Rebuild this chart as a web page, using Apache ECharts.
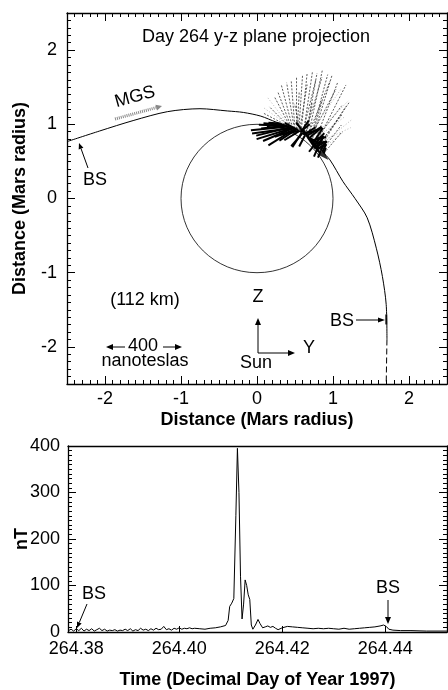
<!DOCTYPE html>
<html>
<head>
<meta charset="utf-8">
<script src="https://cdn.jsdelivr.net/npm/echarts@6/dist/echarts.min.js"></script>
<style>
html, body { margin: 0; padding: 0; background: #fff; }
#chart { width: 448px; height: 690px; }
</style>
</head>
<body>
<div id="chart"></div>
<script>
const FONT = '"Liberation Sans", Arial, Helvetica, sans-serif';
const NT_PER_RADIUS = 400;

// tick labels
const xMajor = [-2, -1, 0, 1, 2];
const yMajor = [-2, -1, 0, 1, 2];
const timeTicks = [264.38, 264.40, 264.42, 264.44];

// MGS track in the y-z plane (Mars radii)
const orbitSolid = [
  [-2.49, 0.77], [-2.07, 0.91], [-1.63, 1.05], [-1.18, 1.17], [-0.75, 1.21],
  [-0.39, 1.18], [-0.18, 1.16], [0.05, 1.11], [0.25, 1.03], [0.42, 0.97],
  [0.55, 0.91], [0.70, 0.79], [0.85, 0.64], [0.96, 0.52], [1.13, 0.23],
  [1.29, 0.0], [1.45, -0.26], [1.57, -0.67], [1.65, -1.05], [1.70, -1.43],
  [1.71, -1.9]
];
const orbitDashed = [[1.71, -1.9], [1.70, -2.5]];
const orbitArrow = [[0.89, 0.57]];
const bsCrossing = [[1.70, -1.63]];

// field vectors: [base y, base z, By (nT), Bz (nT)]
const whiskerFan = [
  [0.42, 0.97, -104, 108], [0.44, 0.96, -84, 164], [0.45, 0.96, -70, 190],
  [0.47, 0.95, -60, 232], [0.49, 0.95, -40, 244], [0.50, 0.94, -20, 260],
  [0.52, 0.94, 0, 276], [0.53, 0.93, 10, 200], [0.55, 0.92, 20, 300],
  [0.56, 0.91, 40, 250], [0.58, 0.90, 32, 316], [0.60, 0.88, 70, 290],
  [0.61, 0.88, 48, 332], [0.63, 0.86, 90, 310], [0.64, 0.85, 60, 336],
  [0.66, 0.83, 120, 300], [0.67, 0.82, 76, 364], [0.69, 0.80, 140, 270],
  [0.70, 0.79, 92, 352], [0.72, 0.77, 108, 360], [0.74, 0.75, 150, 200],
  [0.75, 0.74, 124, 328], [0.77, 0.72, 160, 324], [0.79, 0.70, 130, 170],
  [0.80, 0.69, 164, 240], [0.82, 0.67, 140, 228], [0.85, 0.64, 104, 140],
  [0.88, 0.61, 96, 116], [0.40, 0.98, -130, 70], [0.57, 0.90, -30, 150],
  [0.65, 0.84, 30, 180], [0.71, 0.78, 60, 220]
];
const whiskerCore = [
  [0.30, 1.01, -60, 5], [0.33, 1.00, -80, -10], [0.36, 0.99, -110, 10],
  [0.38, 0.98, -130, -15], [0.40, 0.98, -150, 5], [0.42, 0.97, -200, -20],
  [0.44, 0.96, -180, -45], [0.46, 0.95, -210, -30], [0.47, 0.95, -190, -60],
  [0.48, 0.95, -160, -70], [0.50, 0.94, -140, -90], [0.51, 0.93, -110, -40],
  [0.52, 0.93, -90, -60], [0.54, 0.92, -70, 40], [0.55, 0.91, -100, -20],
  [0.56, 0.91, -80, -50], [0.57, 0.90, 50, 40], [0.58, 0.90, 40, 60],
  [0.59, 0.89, -50, -80], [0.60, 0.88, -60, -70], [0.61, 0.87, 70, 20],
  [0.62, 0.86, 60, 40], [0.63, 0.85, -30, -60], [0.64, 0.85, -50, 70],
  [0.65, 0.84, 80, 50], [0.66, 0.83, 60, -30], [0.67, 0.82, 40, -60],
  [0.68, 0.81, 70, 60], [0.69, 0.80, 50, -50], [0.70, 0.79, -40, 60],
  [0.71, 0.78, 80, 20], [0.72, 0.77, 60, 30], [0.73, 0.76, 30, -50],
  [0.74, 0.75, 50, 80], [0.75, 0.74, 60, 10], [0.76, 0.73, 50, 60],
  [0.77, 0.72, 20, -40], [0.78, 0.71, 40, 50], [0.79, 0.70, 50, 30],
  [0.80, 0.69, 30, 60], [0.81, 0.68, 40, 20], [0.82, 0.67, 40, 40],
  [0.84, 0.65, 30, 50], [0.86, 0.63, 20, 40], [0.88, 0.61, 10, 30],
  [0.76, 0.73, -30, -40], [0.80, 0.69, -20, -50], [0.84, 0.65, -15, -40]
];
const whiskerFaint = [
  [0.44, 0.96, -120, 160], [0.46, 0.95, -150, 110], [0.66, 0.83, 180, 260],
  [0.70, 0.79, 200, 210], [0.72, 0.77, 170, 130], [0.76, 0.73, 190, 90],
  [0.80, 0.69, 180, 150], [0.84, 0.65, 120, 100]
];

// |B| time series
const timeDay = [
  264.3785, 264.3790, 264.3795, 264.3800, 264.3805, 264.3810, 264.3815, 264.3820,
  264.3825, 264.3830, 264.3835, 264.3840, 264.3845, 264.3850, 264.3855, 264.3860,
  264.3865, 264.3870, 264.3875, 264.3880, 264.3885, 264.3890, 264.3895, 264.3900,
  264.3905, 264.3910, 264.3915, 264.3920, 264.3925, 264.3930, 264.3935, 264.3940,
  264.3945, 264.3950, 264.3955, 264.3960, 264.3965, 264.3970, 264.3975, 264.3980,
  264.3985, 264.3990, 264.3995, 264.4000, 264.4005, 264.4010, 264.4015, 264.4020,
  264.4025, 264.4030, 264.4040, 264.4050, 264.4060, 264.4070, 264.4080, 264.4090,
  264.4095, 264.4098, 264.4102, 264.4106, 264.4110, 264.4113, 264.4116, 264.4119,
  264.4122, 264.4125, 264.4128, 264.4131, 264.4134, 264.4137, 264.4140, 264.4143,
  264.4148, 264.4153, 264.4157, 264.4162, 264.4167, 264.4172, 264.4177, 264.4182,
  264.4187, 264.4192, 264.4200, 264.4210, 264.4220, 264.4230, 264.4240, 264.4250,
  264.4260, 264.4270, 264.4280, 264.4290, 264.4300, 264.4310, 264.4320, 264.4330,
  264.4340, 264.4350, 264.4360, 264.4370, 264.4380, 264.4390, 264.4397, 264.4402,
  264.4407, 264.4415, 264.4430, 264.4450, 264.4480, 264.4520
];
const fieldNT = [
  3, 6, 2, 7, 3, 8, 2, 6,
  3, 7, 2, 5, 8, 3, 6, 2,
  4, 3, 5, 2, 4, 3, 6, 3,
  7, 2, 5, 3, 8, 4, 6, 3,
  7, 4, 8, 5, 6, 12, 5, 7,
  4, 8, 6, 9, 6, 8, 7, 9,
  7, 8, 7, 6, 8, 9, 11, 14,
  25, 55, 62, 72, 250, 395, 300, 120,
  28, 60, 112, 100, 80, 70, 15, 6,
  15, 27, 18, 9, 11, 13, 10, 12,
  8, 5, 9, 12, 11, 10, 9, 8,
  7, 8, 7, 8, 7, 6, 8, 6,
  7, 8, 9, 10, 11, 13, 15, 12,
  6, 4, 3, 3, 2, 2
];

const marsBody = [[0, 0, 1]];

function whiskerSeries(name, rows, style) {
  return {
    name: name,
    type: 'custom',
    xAxisIndex: 0,
    yAxisIndex: 0,
    data: rows,
    silent: true,
    renderItem: function (params, api) {
      const y0 = api.value(0), z0 = api.value(1);
      const p0 = api.coord([y0, z0]);
      const p1 = api.coord([y0 + api.value(2) / NT_PER_RADIUS, z0 + api.value(3) / NT_PER_RADIUS]);
      return {
        type: 'line',
        shape: { x1: p0[0], y1: p0[1], x2: p1[0], y2: p1[1] },
        style: style
      };
    }
  };
}

function arrow(x1, y1, x2, y2, opts) {
  const o = Object.assign({ head: 7, half: 3, width: 1, color: '#000' }, opts || {});
  const a = Math.atan2(y2 - y1, x2 - x1);
  const bx = x2 - o.head * Math.cos(a), by = y2 - o.head * Math.sin(a);
  const nx = -Math.sin(a) * o.half, ny = Math.cos(a) * o.half;
  return [
    { type: 'line', z: 100, shape: { x1: x1, y1: y1, x2: bx, y2: by },
      style: { stroke: o.color, lineWidth: o.width, lineDash: o.dash || null } },
    { type: 'polygon', z: 100, shape: { points: [[x2, y2], [bx + nx, by + ny], [bx - nx, by - ny]] },
      style: { fill: o.color } }
  ];
}

function label(text, x, y, extra) {
  return Object.assign({
    type: 'text', z: 100, x: x, y: y,
    style: { text: text, fontSize: 18, fontFamily: FONT, fill: '#000', align: 'center', verticalAlign: 'middle' }
  }, extra || {});
}

const axisLineStyle = { color: '#000', width: 1.3 };
const tickLine = { color: '#000', width: 1 };
const tickLabel = { fontSize: 18, fontFamily: FONT, color: '#000' };
const titleStyle = { fontSize: 18, fontFamily: FONT, fontWeight: 'bold', color: '#000' };

function minorAxis(gridIndex, position) {
  return {
    type: 'value', gridIndex: gridIndex, position: position,
    min: -2.5, max: 2.5, interval: 0.1,
    axisLine: { show: true, onZero: false, lineStyle: axisLineStyle },
    axisTick: { show: true, inside: true, length: 4, lineStyle: tickLine },
    axisLabel: { show: false },
    splitLine: { show: false }
  };
}
function majorAxis(gridIndex, position, values, withLabels) {
  return {
    type: 'value', gridIndex: gridIndex, position: position,
    min: -2.5, max: 2.5,
    axisLine: { show: false, onZero: false },
    axisTick: { show: true, inside: true, length: 8, customValues: values, lineStyle: tickLine },
    axisLabel: Object.assign({ show: withLabels, customValues: values, formatter: v => String(v) }, tickLabel),
    splitLine: { show: false }
  };
}

const xTopLabeled = majorAxis(0, 'bottom', xMajor, true);
xTopLabeled.axisLabel.margin = 6;
xTopLabeled.name = 'Distance (Mars radius)';
xTopLabeled.nameLocation = 'middle';
xTopLabeled.nameGap = 27;
xTopLabeled.nameMoveOverlap = false;
xTopLabeled.nameTextStyle = titleStyle;

const yTopLabeled = majorAxis(0, 'left', yMajor, true);
yTopLabeled.axisLabel.margin = 10;
yTopLabeled.name = 'Distance (Mars radius)';
yTopLabeled.nameLocation = 'middle';
yTopLabeled.nameGap = 38;
yTopLabeled.nameMoveOverlap = false;
yTopLabeled.nameTextStyle = titleStyle;

const option = {
  backgroundColor: '#fff',
  animation: false,
  grid: [
    { left: 67, top: 13, width: 380, height: 371, outerBoundsMode: 'none', containLabel: false },
    { left: 68, top: 446, width: 379, height: 186, outerBoundsMode: 'none', containLabel: false }
  ],
  xAxis: [
    minorAxis(0, 'bottom'),
    xTopLabeled,
    minorAxis(0, 'top'),
    majorAxis(0, 'top', xMajor, false),
    {
      type: 'value', gridIndex: 1, position: 'bottom',
      min: 264.3784, max: 264.452,
      axisLine: { show: true, onZero: false, lineStyle: axisLineStyle },
      axisTick: { show: true, inside: true, length: 6, customValues: timeTicks, lineStyle: tickLine },
      axisLabel: Object.assign({ customValues: timeTicks, margin: 8, formatter: v => v.toFixed(2) }, tickLabel),
      splitLine: { show: false },
      name: 'Time (Decimal Day of Year 1997)',
      nameLocation: 'middle', nameGap: 39, nameMoveOverlap: false, nameTextStyle: titleStyle
    },
    {
      type: 'value', gridIndex: 1, position: 'top',
      min: 264.3784, max: 264.452,
      axisLine: { show: true, onZero: false, lineStyle: axisLineStyle },
      axisTick: { show: false }, axisLabel: { show: false }, splitLine: { show: false }
    }
  ],
  yAxis: [
    minorAxis(0, 'left'),
    yTopLabeled,
    minorAxis(0, 'right'),
    majorAxis(0, 'right', yMajor, false),
    {
      type: 'value', gridIndex: 1, position: 'left',
      min: 0, max: 400, interval: 100,
      axisLine: { show: true, onZero: false, lineStyle: axisLineStyle },
      axisTick: { show: true, inside: true, length: 8, lineStyle: tickLine },
      minorTick: { show: true, splitNumber: 10, length: 4, lineStyle: tickLine },
      axisLabel: Object.assign({ margin: 8 }, tickLabel),
      splitLine: { show: false },
      name: 'nT', nameLocation: 'middle', nameGap: 37, nameMoveOverlap: false, nameTextStyle: titleStyle
    },
    {
      type: 'value', gridIndex: 1, position: 'right',
      min: 0, max: 400, interval: 100,
      axisLine: { show: true, onZero: false, lineStyle: axisLineStyle },
      axisTick: { show: true, inside: true, length: 8, lineStyle: tickLine },
      minorTick: { show: true, splitNumber: 10, length: 4, lineStyle: tickLine },
      axisLabel: { show: false },
      splitLine: { show: false }
    }
  ],
  series: [
    {
      name: 'Mars', type: 'custom', xAxisIndex: 0, yAxisIndex: 0, data: marsBody, silent: true,
      renderItem: function (params, api) {
        const c = api.coord([api.value(0), api.value(1)]);
        const s = api.size([api.value(2), api.value(2)]);
        return { type: 'ellipse', shape: { cx: c[0], cy: c[1], rx: s[0], ry: s[1] },
          style: { fill: 'none', stroke: '#000', lineWidth: 0.8 } };
      }
    },
    {
      name: 'orbit', type: 'line', xAxisIndex: 0, yAxisIndex: 0, data: orbitSolid,
      showSymbol: false, smooth: 0.3, silent: true,
      lineStyle: { color: '#000', width: 1 }
    },
    {
      name: 'orbit-dashed', type: 'line', xAxisIndex: 0, yAxisIndex: 0, data: orbitDashed,
      showSymbol: false, silent: true,
      lineStyle: { color: '#000', width: 1, type: [6, 3] }
    },
    whiskerSeries('fan', whiskerFan, { stroke: '#333', lineWidth: 0.8, lineDash: [2, 1.5] }),
    whiskerSeries('faint', whiskerFaint, { stroke: '#999', lineWidth: 0.7, lineDash: [1, 2] }),
    whiskerSeries('core', whiskerCore, { stroke: '#000', lineWidth: 2 }),
    {
      name: 'direction', type: 'scatter', xAxisIndex: 0, yAxisIndex: 0, data: orbitArrow,
      symbol: 'triangle', symbolSize: [7, 11], symbolRotate: -135, silent: true,
      itemStyle: { color: '#000' }
    },
    {
      name: 'bs-crossing', type: 'scatter', xAxisIndex: 0, yAxisIndex: 0, data: bsCrossing,
      symbol: 'rect', symbolSize: [2, 10], silent: true,
      itemStyle: { color: '#000' }
    },
    {
      name: '|B|', type: 'line', xAxisIndex: 4, yAxisIndex: 4,
      data: timeDay.map((t, i) => [t, fieldNT[i]]),
      showSymbol: false, silent: true,
      lineStyle: { color: '#000', width: 1 }
    }
  ],
  graphic: {
    elements: [
      label('Day 264 y-z plane projection', 256, 37),
      label('MGS', 135, 97, { rotation: 0.27 }),
      ...arrow(115, 119, 162, 106, { color: '#888', width: 3, dash: [1, 1], head: 6, half: 3 }),
      label('BS', 95, 180),
      ...arrow(88, 168, 79, 143, { head: 6, half: 2.5 }),
      label('(112 km)', 145, 300),
      label('Z', 258, 297),
      ...arrow(258, 353, 258, 318, { head: 7, half: 3 }),
      ...arrow(258, 353, 295, 353, { head: 7, half: 3 }),
      label('Y', 309, 348),
      label('Sun', 256, 363),
      label('BS', 342, 321),
      ...arrow(356, 320, 385, 320, { head: 7, half: 2.5 }),
      ...arrow(125, 347, 106, 347, { head: 7, half: 3 }),
      label('400', 143, 346),
      ...arrow(163, 347, 182, 347, { head: 7, half: 3 }),
      label('nanoteslas', 145, 361),
      label('BS', 94, 594),
      ...arrow(87, 604, 77, 628, { head: 6, half: 2.5 }),
      label('BS', 388, 588),
      ...arrow(388, 600, 388, 624, { head: 7, half: 3 })
    ]
  }
};

const chart = echarts.init(document.getElementById('chart'), null, { renderer: 'canvas' });
chart.setOption(option);
</script>
</body>
</html>
